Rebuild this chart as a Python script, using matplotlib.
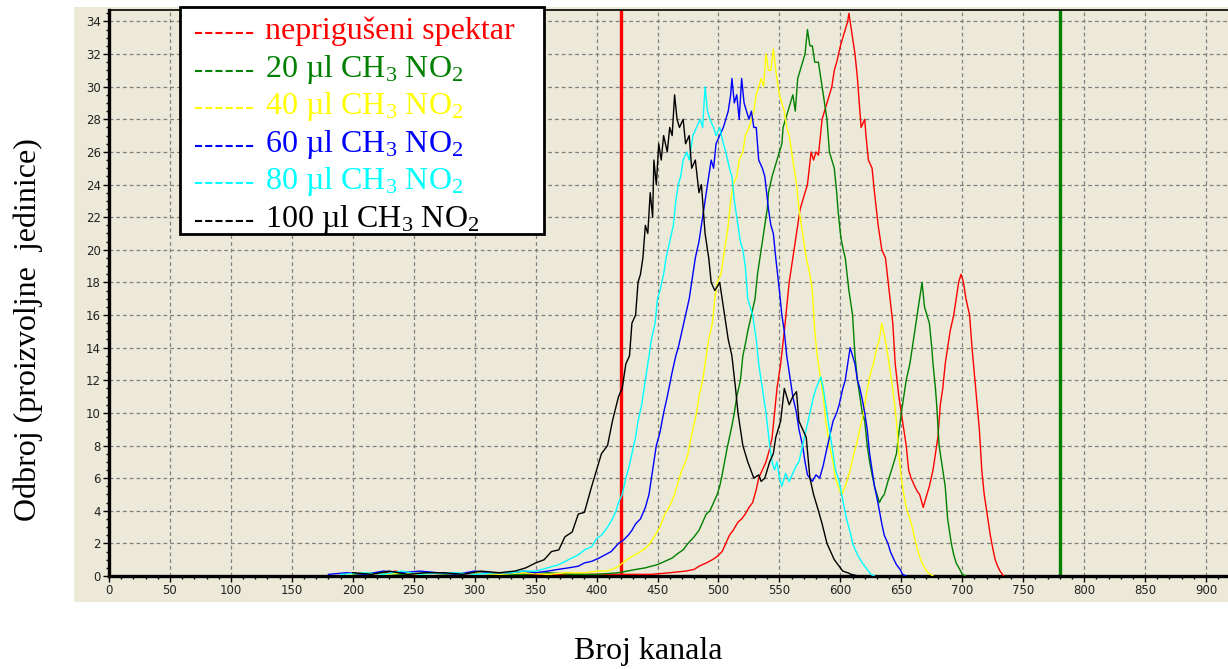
import matplotlib
matplotlib.use("Agg")
import matplotlib.pyplot as plt
from matplotlib.patches import Rectangle
from matplotlib.lines import Line2D
from matplotlib.ticker import MultipleLocator

plt.rcParams['mathtext.default'] = 'regular'

# ---------------- data (channel, counts) ----------------
RED = [(190,0.1),(205,0.2),(220,0.1),(235,0.3),(250,0.1),(265,0.2),(280,0.2),(295,0.1),(310,0.2),(325,0.1),
       (345,0.1),(365,0.1),(385,0.1),(405,0.1),(425,0.1),(445,0.1),(460,0.2),(473,0.3),(480,0.4),(484,0.6),
       (490,0.8),(495,1.0),(499,1.2),(503,1.5),(506,2.0),(509,2.5),(512,2.8),(516,3.3),(519,3.5),(522,3.8),
       (525,4.2),(528,4.5),(531,5.3),(533,6.0),(536,6.5),(539,7.0),(542,7.8),(544,8.5),(546,10.0),(548,11.5),
       (551,13.0),(554,15.0),(556,16.5),(558,18.0),(561,19.5),(563,20.5),(565,21.5),(567,22.5),(569,23.0),
       (571,23.5),(573,24.0),(576,26.0),(578,25.5),(580,26.0),(582,25.8),(585,28.0),(587,28.5),(589,29.0),
       (591,29.5),(593,30.0),(595,31.0),(597,31.5),(600,32.5),(602,33.0),(604,33.5),(606,34.0),(607,34.5),
       (609,33.5),(611,32.5),(612,32.0),(614,30.5),(615,29.5),(617,27.5),(620,28.0),(621,27.0),(623,25.5),
       (626,25.0),(628,23.5),(631,21.5),(634,20.0),(637,19.5),(640,17.5),(643,15.5),(645,13.0),(648,11.0),
       (651,9.5),(654,8.0),(656,6.5),(658,6.0),(661,5.5),(663,5.2),(665,5.0),(668,4.2),(671,5.0),(673,5.5),
       (676,6.5),(678,7.5),(680,8.5),(682,10.5),(684,11.5),(686,13.0),(688,14.0),(690,15.0),(693,16.0),
       (695,17.0),(697,18.0),(699,18.5),(701,18.0),(703,17.0),(706,16.0),(708,14.0),(711,11.5),(714,9.0),
       (716,6.5),(718,5.0),(720,4.0),(723,2.5),(725,1.7),(727,1.0),(729,0.6),(731,0.3),(734,0.0)]

GREEN = [(200,0.1),(220,0.2),(240,0.1),(260,0.2),(280,0.1),(300,0.2),(320,0.1),(340,0.1),(360,0.2),(380,0.1),
         (400,0.1),(418,0.2),(425,0.3),(432,0.4),(440,0.5),(445,0.6),(450,0.7),(456,0.9),(462,1.1),(467,1.4),
         (471,1.6),(475,2.0),(480,2.4),(484,2.8),(487,3.3),(490,3.8),(493,4.0),(496,4.5),(499,5.0),(501,5.5),
         (503,6.2),(505,7.0),(507,7.8),(509,8.5),(511,9.2),(513,10.0),(515,11.0),(518,12.0),(520,13.5),(522,14.2),
         (524,15.0),(527,16.0),(530,17.0),(532,18.5),(534,19.5),(536,20.5),(538,21.5),(540,22.5),(541,23.5),
         (544,24.5),(546,25.0),(548,25.5),(550,26.0),(552,26.5),(553,27.5),(555,28.0),(557,28.5),(559,29.0),
         (561,29.5),(563,28.5),(565,30.5),(567,31.0),(569,31.5),(571,32.0),(573,33.5),(575,32.5),(577,32.5),
         (579,31.5),(582,31.5),(584,30.5),(586,29.5),(588,28.5),(589,28.0),(591,26.0),(593,25.5),(595,25.0),
         (597,23.5),(598,22.5),(600,21.0),(601,20.5),(603,19.8),(604,19.5),(607,17.5),(609,16.5),(610,16.0),
         (612,13.5),(614,12.0),(616,11.0),(618,10.0),(620,9.5),(622,8.0),(624,7.0),(626,6.2),(628,5.5),(630,5.0),
         (632,4.5),(634,4.8),(636,5.0),(639,5.8),(642,6.5),(644,7.0),(646,7.5),(648,8.8),(650,10.0),(652,11.0),
         (654,12.0),(657,13.0),(659,14.0),(661,15.0),(663,16.0),(665,17.0),(667,18.0),(669,16.5),(671,16.0),
         (673,15.5),(675,14.0),(676,13.0),(678,11.5),(679,10.5),(681,8.0),(684,6.5),(686,5.5),(688,3.5),
         (691,2.0),(693,1.3),(695,0.8),(698,0.4),(700,0.1),(703,0.0)]

YELLOW = [(195,0.1),(210,0.2),(225,0.1),(240,0.2),(255,0.1),(270,0.2),(285,0.1),(300,0.2),(320,0.1),(340,0.2),
          (360,0.1),(375,0.2),(391,0.2),(400,0.3),(407,0.3),(413,0.4),(418,0.6),(423,0.9),(429,1.2),(434,1.4),
          (440,1.7),(444,2.0),(448,2.5),(452,3.0),(456,3.8),(460,4.3),(464,5.0),(467,5.8),(470,6.5),(473,7.0),
          (475,7.5),(477,8.3),(479,9.0),(482,10.0),(484,11.0),(487,12.0),(489,13.0),(492,14.5),(495,15.5),
          (497,17.0),(499,18.0),(502,18.5),(504,19.5),(506,20.5),(508,21.5),(510,23.0),(512,24.0),(515,24.5),
          (517,25.5),(520,26.0),(522,27.0),(525,27.5),(527,28.0),(529,28.5),(531,29.5),(533,30.0),(535,30.5),
          (537,30.0),(539,32.0),(541,31.0),(543,31.0),(545,32.3),(547,31.0),(550,29.5),(552,29.0),(554,28.5),
          (556,27.5),(558,27.0),(560,26.0),(562,25.0),(564,24.0),(566,22.5),(568,21.5),(570,20.5),(572,19.5),
          (575,18.5),(577,17.5),(579,15.0),(581,13.5),(583,12.5),(586,11.0),(588,9.5),(591,8.0),(594,7.0),
          (596,6.0),(599,5.3),(601,5.0),(604,5.5),(606,6.0),(608,6.5),(611,7.5),(613,8.0),(616,9.0),(619,10.0),
          (621,11.0),(623,11.8),(625,12.5),(627,13.0),(630,14.0),(632,14.5),(634,15.5),(636,14.8),(638,14.0),
          (640,13.0),(642,12.0),(644,10.8),(646,9.5),(648,7.5),(650,6.0),(652,5.0),(654,4.2),(657,3.5),(659,3.0),
          (661,2.3),(663,1.7),(665,1.2),(667,0.8),(670,0.4),(672,0.2),(676,0.0)]

BLUE = [(180,0.1),(195,0.2),(210,0.1),(225,0.3),(240,0.2),(255,0.3),(270,0.2),(285,0.1),(300,0.3),(315,0.2),
        (330,0.2),(340,0.3),(350,0.2),(360,0.3),(368,0.4),(377,0.5),(385,0.6),(390,0.8),(396,0.9),(402,1.1),
        (407,1.3),(412,1.5),(418,2.0),(422,2.2),(426,2.5),(429,2.8),(432,3.2),(436,3.5),(440,4.2),(443,5.0),
        (445,6.0),(447,7.0),(449,8.0),(452,8.8),(455,10.0),(458,11.0),(462,12.5),(465,13.5),(467,14.0),
        (470,15.0),(473,16.0),(476,17.0),(478,18.0),(481,19.5),(484,20.5),(486,21.5),(488,22.5),(490,23.5),
        (492,24.5),(494,25.5),(496,25.0),(498,26.5),(501,27.0),(504,27.5),(506,28.0),(508,28.5),(510,29.5),
        (511,30.5),(513,29.0),(515,29.5),(517,28.0),(519,30.5),(521,29.0),(523,28.5),(525,28.0),(527,28.5),
        (529,27.5),(531,27.5),(533,25.5),(536,25.0),(538,24.5),(541,22.5),(543,21.5),(545,21.0),(547,19.5),
        (550,17.5),(552,16.0),(554,15.0),(556,13.5),(558,12.5),(561,11.0),(564,10.0),(566,9.0),(569,8.0),
        (571,7.0),(573,6.2),(575,6.0),(577,5.8),(580,6.2),(583,6.0),(586,6.8),(588,7.5),(591,8.5),(594,9.5),
        (597,10.0),(599,10.5),(602,11.5),(604,12.0),(606,13.0),(608,14.0),(610,13.5),(612,13.0),(614,12.0),
        (616,11.5),(618,10.8),(620,10.0),(622,9.0),(624,7.5),(626,6.5),(628,5.5),(630,4.8),(632,4.0),(634,3.2),
        (636,2.5),(639,2.0),(641,1.5),(644,1.0),(646,0.7),(649,0.4),(651,0.1),(654,0.0)]

CYAN = [(190,0.1),(210,0.2),(225,0.1),(240,0.3),(255,0.1),(270,0.2),(285,0.2),(300,0.1),(315,0.2),(330,0.2),
        (340,0.3),(350,0.3),(360,0.5),(369,0.7),(377,1.0),(385,1.3),(390,1.6),(396,1.8),(400,2.3),(404,2.5),
        (409,3.0),(413,3.5),(416,4.0),(418,4.5),(421,5.0),(424,6.0),(427,6.8),(429,7.5),(432,8.5),(434,9.5),
        (437,10.5),(440,12.0),(443,13.5),(445,14.5),(448,15.5),(450,17.0),(452,17.5),(455,18.5),(457,19.5),
        (460,20.5),(463,21.5),(465,23.0),(467,24.0),(469,24.5),(471,25.5),(474,26.0),(476,25.5),(479,27.0),
        (482,27.5),(485,28.0),(487,27.5),(489,30.0),(491,28.5),(493,28.0),(496,27.5),(498,27.0),(501,27.5),
        (504,26.5),(506,26.0),(509,25.0),(511,24.5),(513,23.0),(516,21.5),(518,20.5),(520,20.0),(522,19.0),
        (524,17.0),(526,16.5),(528,16.0),(531,14.5),(533,13.0),(536,11.5),(539,10.0),(542,8.0),(544,7.0),
        (546,6.5),(548,7.0),(550,6.0),(552,5.5),(555,6.3),(558,5.8),(561,6.3),(564,6.8),(566,7.0),(569,8.0),
        (572,9.0),(575,10.0),(578,11.0),(580,11.5),(584,12.2),(586,11.5),(588,10.5),(590,9.5),(592,8.5),
        (594,7.5),(596,6.5),(599,5.8),(601,5.0),(605,3.5),(608,2.7),(610,2.0),(614,1.3),(618,0.8),(622,0.4),
        (625,0.1),(628,0.0)]

BLACK = [(200,0.2),(215,0.1),(230,0.3),(245,0.1),(260,0.2),(275,0.2),(290,0.1),(305,0.3),(320,0.2),(333,0.3),
         (342,0.5),(350,0.8),(357,1.0),(363,1.5),(369,1.6),(374,2.4),(380,2.7),(385,3.8),(390,3.9),(396,5.5),
         (400,6.5),(404,7.5),(409,8.0),(413,9.5),(418,11.0),(421,11.5),(424,13.0),(427,13.5),(429,15.5),
         (432,16.0),(434,18.0),(436,18.5),(438,19.5),(440,21.5),(442,21.0),(444,23.5),(446,22.0),(447,25.5),
         (449,24.0),(451,26.5),(453,25.5),(455,27.0),(458,26.0),(460,27.5),(462,27.0),(464,29.5),(466,28.0),
         (468,27.5),(471,28.0),(473,26.5),(476,27.0),(478,25.0),(481,25.5),(484,23.5),(486,24.0),(489,21.0),
         (492,19.5),(494,18.0),(497,17.5),(501,18.0),(505,16.0),(508,14.5),(511,13.5),(514,11.5),(516,10.0),
         (520,8.0),(524,7.0),(529,6.0),(533,6.2),(535,5.8),(538,6.0),(542,7.0),(545,7.5),(547,8.5),(551,9.5),
         (554,11.5),(558,10.5),(561,11.0),(564,11.3),(566,9.5),(569,9.0),(572,8.5),(575,6.0),(578,5.0),
         (582,4.0),(585,3.2),(589,2.0),(592,1.5),(595,1.0),(599,0.6),(602,0.3),(606,0.2),(609,0.1),(615,0.0)]

SERIES = [RED, GREEN, YELLOW, BLUE, CYAN, BLACK]
COLORS = ['#FF0000', '#008000', '#FFFF00', '#0000FF', '#00FFFF', '#000000']
LABELS = ['neprigušeni spektar',
          '20 µl CH$_3$ NO$_2$',
          '40 µl CH$_3$ NO$_2$',
          '60 µl CH$_3$ NO$_2$',
          '80 µl CH$_3$ NO$_2$',
          '100 µl CH$_3$ NO$_2$']
MARKERS_X = [420, 780]
MARKER_COLORS = ['#FF0000', '#008000']

XLABEL = 'Broj kanala'
YLABEL = 'Odbroj (proizvoljne  jedinice)'

# ---------------- figure ----------------
W, H = 1228, 669
fig = plt.figure(figsize=(W / 100, H / 100), dpi=100)
fig.patch.set_facecolor('white')

BEIGE = '#ECE9D8'
bg = Rectangle((74 / W, 1 - 602 / H), (W - 74) / W, (602 - 7) / H,
               transform=fig.transFigure, facecolor=BEIGE, edgecolor='none', zorder=-10)
fig.add_artist(bg)

ax = fig.add_axes([109 / W, 1 - 576 / H, (W - 109) / W, (576 - 10) / H])
ax.set_zorder(1)
ax.set_facecolor(BEIGE)
ax.set_xlim(0, 918)
ax.set_ylim(0, 34.7)

ax.xaxis.set_major_locator(MultipleLocator(50))
ax.xaxis.set_minor_locator(MultipleLocator(10))
ax.yaxis.set_major_locator(MultipleLocator(2))
ax.yaxis.set_minor_locator(MultipleLocator(0.5))
ax.grid(True, which='major', color='#808080', linestyle=(0, (3, 2.4)), linewidth=0.9)
ax.set_axisbelow(True)

for side in ['left', 'bottom']:
    ax.spines[side].set_linewidth(2.4)
    ax.spines[side].set_color('black')
ax.spines['top'].set_linewidth(1.2)
ax.spines['right'].set_visible(False)

ax.tick_params(which='major', direction='out', length=4, width=1, color='black',
               labelsize=8.5, labelcolor='#222222', pad=2)
ax.tick_params(which='minor', direction='out', length=2, width=1, color='black')

for xm, cm in zip(MARKERS_X, MARKER_COLORS):
    ax.axvline(xm, color=cm, linewidth=2.4, zorder=2)

for data, col in zip(SERIES, COLORS):
    xs = [p[0] for p in data]
    ys = [p[1] for p in data]
    ax.plot(xs, ys, color=col, linewidth=1.0, zorder=3)

# ---------------- legend box (figure pixel layout) ----------------
def fx(px):
    return px / W

def fy(py):
    return 1 - py / H

frame = Rectangle((fx(180), fy(234)), fx(544) - fx(180), fy(7) - fy(234),
                  transform=fig.transFigure, facecolor='white', edgecolor='black',
                  linewidth=2.0, zorder=20)
fig.add_artist(frame)
for i, (lab, col) in enumerate(zip(LABELS, COLORS)):
    base = 39.3 + i * 37.5
    fig.add_artist(Line2D([fx(195), fx(256)], [fy(base - 6), fy(base - 6)], transform=fig.transFigure,
                          color=col, linewidth=1.5, linestyle=(0, (3.4, 1.5)), zorder=21))
    fig.text(fx(265), fy(base), lab, ha='left', va='baseline', color=col,
             family='Liberation Serif', fontsize=23, zorder=22)

fig.text(648 / W, 1 - 652 / H, XLABEL, ha='center', va='center',
         family='Liberation Serif', fontsize=23)
fig.text(28 / W, 1 - 330 / H, YLABEL, ha='center', va='center', rotation=90,
         family='Liberation Serif', fontsize=23)

fig.savefig('out.png', dpi=100, facecolor='white')
